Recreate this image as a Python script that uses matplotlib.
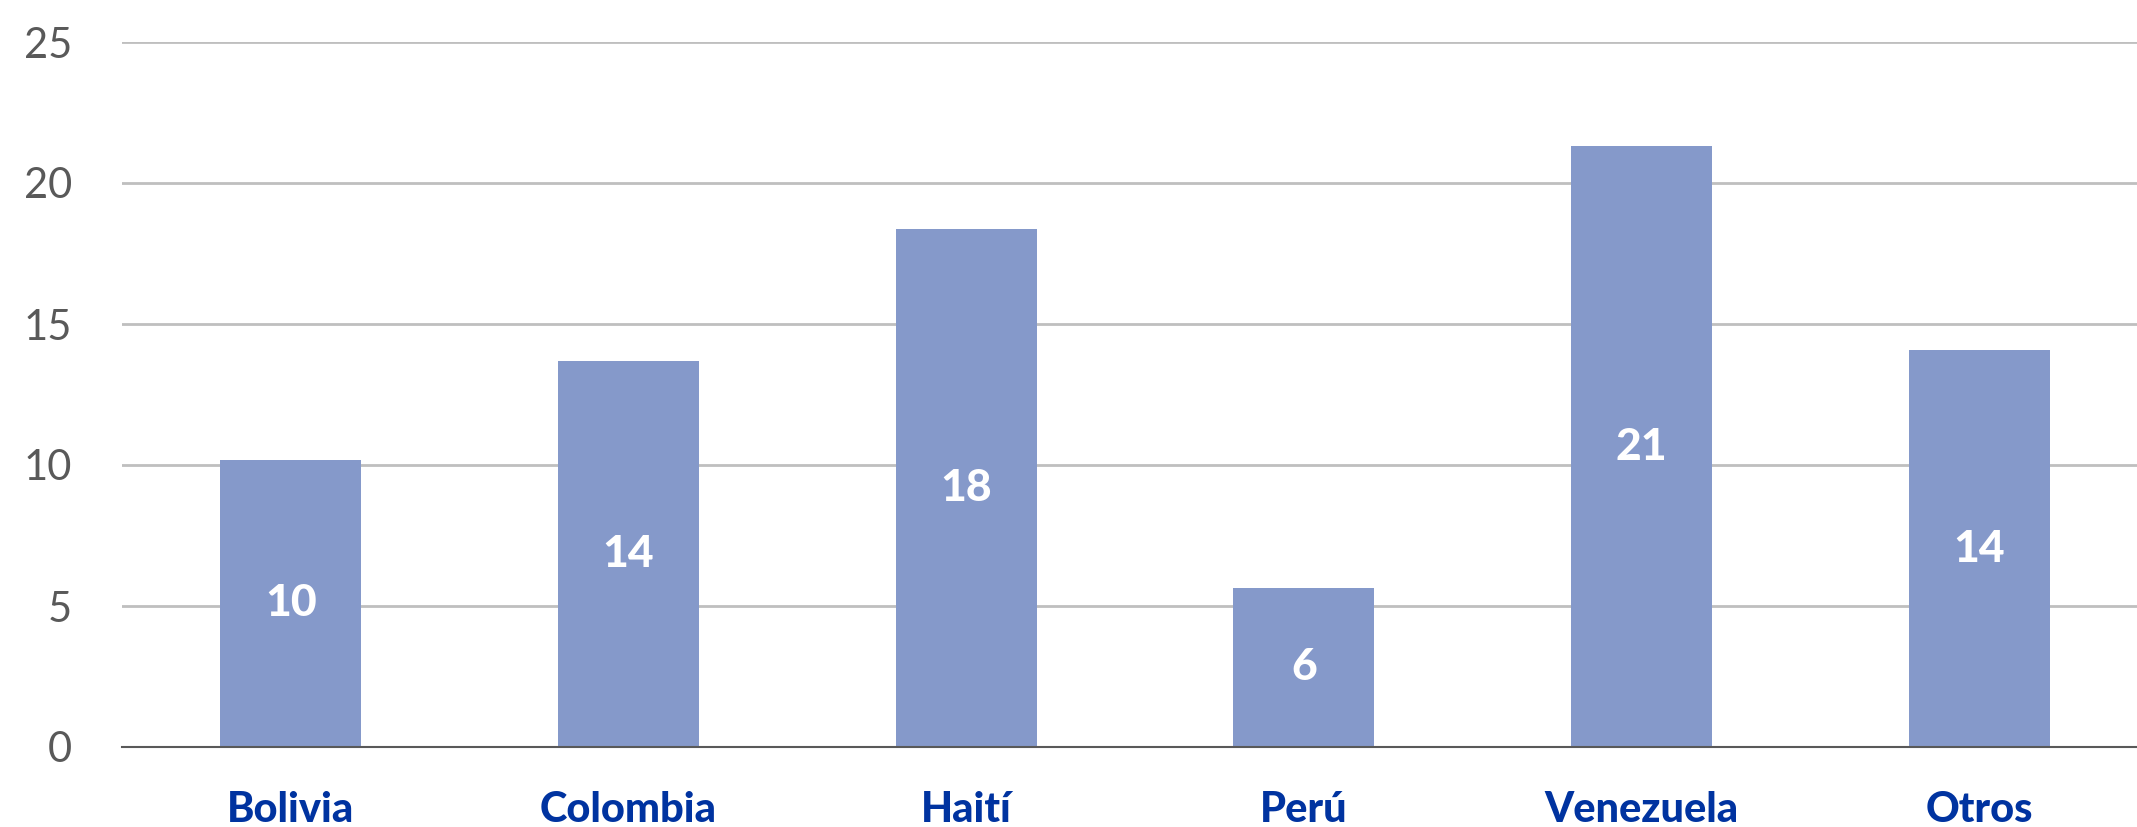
import matplotlib.pyplot as plt
import numpy as np

# data
paises = ["Bolivia", "Colombia", "Haití", "Perú", "Venezuela", "Otros"]
valores = [10.18, 13.69, 18.37, 5.65, 21.31, 14.07]
etiquetas = ["10", "14", "18", "6", "21", "14"]
yticks = [0, 5, 10, 15, 20, 25]

plt.rcParams['font.family'] = ['Lato', 'DejaVu Sans']

fig = plt.figure(figsize=(21.37, 8.27), dpi=100)
# plot area runs a little past the right edge, as in the reference
ax = fig.add_axes([122 / 2137, 1 - 747 / 827, 2026 / 2137, (747 - 42) / 827])

x = np.arange(len(paises))
bars = ax.bar(x, valores, width=0.417, color="#8599CA", zorder=2)

# labels in the middle of the bars
for b, lab in zip(bars, etiquetas):
    ax.text(b.get_x() + b.get_width() / 2, b.get_height() / 2, lab,
            ha="center", va="center", color="white", fontsize=32, fontweight="black")

ax.set_xlim(-0.5, len(paises) - 0.5)
ax.set_ylim(0, 25)
ax.set_yticks(yticks)
ax.set_xticks(x)
ax.set_xticklabels(paises, fontsize=30, fontweight="black", color="#0033A0")
ax.tick_params(axis="x", length=0, pad=32)
ax.tick_params(axis="y", length=0, pad=36, labelsize=30, labelcolor="#595959")

ax.yaxis.grid(True, color="#BFBFBF", linewidth=2, zorder=0)
for s in ["top", "right", "left"]:
    ax.spines[s].set_visible(False)
ax.spines["bottom"].set_color("#595959")
ax.spines["bottom"].set_linewidth(1.5)
ax.spines["bottom"].set_zorder(3)

fig.savefig("out.png", dpi=100)
